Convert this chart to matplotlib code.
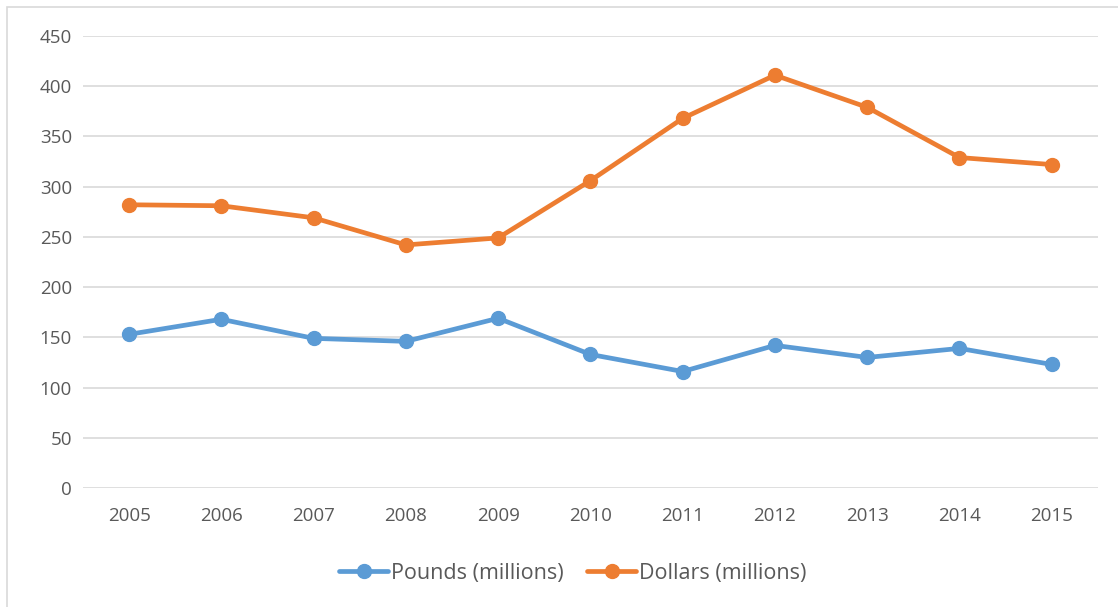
import matplotlib
matplotlib.use("Agg")
import matplotlib.pyplot as plt
from matplotlib.patches import Rectangle

# ── Data ──────────────────────────────────────────────────────────────
YEARS = ["2005", "2006", "2007", "2008", "2009", "2010",
         "2011", "2012", "2013", "2014", "2015"]
POUNDS = [153, 168, 149, 146, 169, 133, 116, 142, 130, 139, 123]
DOLLARS = [282, 281, 269, 242, 249, 306, 368, 411, 379, 329, 322]

BLUE = "#5B9BD5"
ORANGE = "#ED7D31"
TEXT = "#595959"
GRID = "#D9D9D9"

plt.rcParams["font.family"] = ["Open Sans", "DejaVu Sans"]

fig = plt.figure(figsize=(11.18, 6.07), dpi=100)
ax = fig.add_axes([0.0742, 0.196, 0.9078, 0.7447])

x = list(range(len(YEARS)))
ax.plot(x, POUNDS, "-o", color=BLUE, lw=3.4, ms=10, label="Pounds (millions)",
        solid_capstyle="round")
ax.plot(x, DOLLARS, "-o", color=ORANGE, lw=3.4, ms=10, label="Dollars (millions)",
        solid_capstyle="round")

ax.set_xlim(-0.5, len(YEARS) - 0.5)
ax.set_ylim(0, 450)
ax.set_yticks(range(0, 451, 50))
ax.set_xticks(x)
ax.set_xticklabels(YEARS)
ax.grid(axis="y", color=GRID, lw=1.2)
ax.set_axisbelow(True)
for s in ax.spines.values():
    s.set_visible(False)
ax.tick_params(length=0, labelsize=13.5, labelcolor=TEXT, pad=8)
ax.tick_params(axis="x", pad=14)

leg = fig.legend(loc="center", bbox_to_anchor=(0.512, 0.056), ncol=2, frameon=False,
                 fontsize=15.5, handlelength=2.3, columnspacing=1.1, handletextpad=0.1)
for t in leg.get_texts():
    t.set_color(TEXT)

# chart border
fig.patches.append(Rectangle((7 / 1118, -0.1), 1.2, 1 - 7 / 607 + 0.1,
                             transform=fig.transFigure, fill=False,
                             edgecolor=GRID, lw=1.2))

fig.savefig("out.png", dpi=100)
